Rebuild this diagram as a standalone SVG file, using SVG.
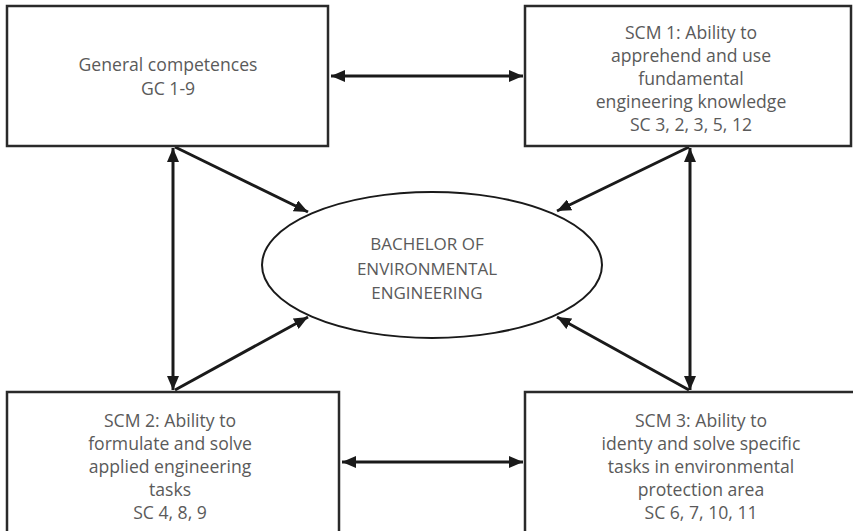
<svg xmlns="http://www.w3.org/2000/svg" width="853" height="531" viewBox="0 0 853 531">
<style>
.box{fill:#fff;stroke:#2a2a2a;stroke-width:2.5}
.ell{fill:#fff;stroke:#1a1a1a;stroke-width:2}
.t{font-family:"Open Sans","Noto Sans",sans-serif;font-size:17.6px;fill:#5a5a5a;text-anchor:middle}
.e{font-size:17px}
.c{stroke:#1a1a1a;stroke-width:3;fill:none;marker-end:url(#ah);marker-start:url(#as)}
.c1{stroke:#1a1a1a;stroke-width:3;fill:none;marker-end:url(#ah)}
</style>
<defs>
<marker id="ah" markerUnits="userSpaceOnUse" markerWidth="16" markerHeight="12" refX="14" refY="6" orient="auto"><path d="M0,0 L14,6 L0,12 z" fill="#1a1a1a"/></marker>
<marker id="as" markerUnits="userSpaceOnUse" markerWidth="16" markerHeight="12" refX="0" refY="6" orient="auto"><path d="M14,0 L0,6 L14,12 z" fill="#1a1a1a"/></marker>
</defs>
<rect width="853" height="531" fill="#fff"/>
<g id="connectors">
<line class="c" x1="331" y1="76" x2="523" y2="76"/>
<line class="c" x1="342" y1="462" x2="523" y2="462"/>
<line class="c" x1="173" y1="148" x2="173" y2="390"/>
<line class="c" x1="690" y1="148" x2="690" y2="390"/>
<line class="c1" x1="175" y1="147" x2="308" y2="212"/>
<line class="c1" x1="175" y1="390" x2="308" y2="317"/>
<line class="c1" x1="689" y1="147" x2="557" y2="211"/>
<line class="c1" x1="689" y1="390" x2="557" y2="317"/>
</g>
<g id="gc">
<rect class="box" x="7" y="6" width="321" height="140"/>
<text class="t" x="168" y="71">General competences</text>
<text class="t" x="168" y="95">GC 1-9</text>
</g>
<g id="scm1">
<rect class="box" x="525" y="6" width="326" height="140"/>
<text class="t" x="691" y="39">SCM 1: Ability to</text>
<text class="t" x="691" y="62">apprehend and use</text>
<text class="t" x="691" y="85">fundamental</text>
<text class="t" x="691" y="108">engineering knowledge</text>
<text class="t" x="691" y="131">SC 3, 2, 3, 5, 12</text>
</g>
<g id="scm2">
<rect class="box" x="7" y="392" width="332" height="145"/>
<text class="t" x="170" y="427">SCM 2: Ability to</text>
<text class="t" x="170" y="450">formulate and solve</text>
<text class="t" x="170" y="473">applied engineering</text>
<text class="t" x="170" y="496">tasks</text>
<text class="t" x="170" y="519">SC 4, 8, 9</text>
</g>
<g id="scm3">
<rect class="box" x="525" y="392" width="340" height="145"/>
<text class="t" x="701" y="427">SCM 3: Ability to</text>
<text class="t" x="701" y="450">identy and solve specific</text>
<text class="t" x="701" y="473">tasks in environmental</text>
<text class="t" x="701" y="496">protection area</text>
<text class="t" x="701" y="519">SC 6, 7, 10, 11</text>
</g>
<g id="bachelor">
<ellipse class="ell" cx="432" cy="265" rx="170" ry="73"/>
<text class="t e" x="427" y="250">BACHELOR OF</text>
<text class="t e" x="427" y="275">ENVIRONMENTAL</text>
<text class="t e" x="427" y="299">ENGINEERING</text>
</g>
</svg>
